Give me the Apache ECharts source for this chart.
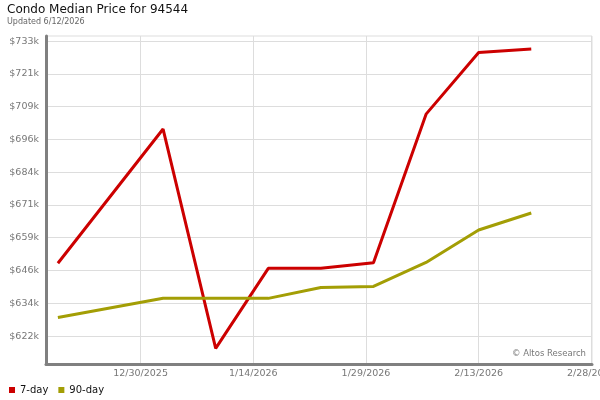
<!DOCTYPE html>
<html>
<head>
<meta charset="utf-8">
<script src="https://cdn.jsdelivr.net/npm/echarts@6/dist/echarts.min.js"></script>
<style>
  html, body { margin: 0; padding: 0; background: #fff; }
  #chart { width: 600px; height: 400px; }
</style>
</head>
<body>
<div id="chart"></div>
<script>
// weekly sample dates
const dates = ['2025-12-19', '2026-01-02', '2026-01-09', '2026-01-16', '2026-01-23',
               '2026-01-30', '2026-02-06', '2026-02-13', '2026-02-20'];
// median price, 7-day and 90-day rolling
const sevenDay = [649400, 699900, 617400, 647500, 647500, 649600, 705500, 728700, 730000];
const ninetyDay = [629000, 636200, 636200, 636200, 640300, 640700, 649700, 661900, 668300];

// tick labels
const xTickDates = ['2025-12-30', '2026-01-14', '2026-01-29', '2026-02-13', '2026-02-28'];
const yTickValues = [622000, 634333, 646667, 659000, 671333, 683667, 696000, 708333, 720667, 733000];
const yTickLabels = ['$622k', '$634k', '$646k', '$659k', '$671k', '$684k', '$696k', '$709k', '$721k', '$733k'];

const FONT = 'DejaVu Sans';

function ts(d) {
    return new Date(d + 'T00:00:00Z').getTime();
}

function fmtDate(v) {
    const d = new Date(v);
    return (d.getUTCMonth() + 1) + '/' + d.getUTCDate() + '/' + d.getUTCFullYear();
}

function fmtPrice(v) {
    let best = 0;
    for (let i = 1; i < yTickValues.length; i++) {
        if (Math.abs(yTickValues[i] - v) < Math.abs(yTickValues[best] - v)) best = i;
    }
    return yTickLabels[best];
}

const chart = echarts.init(document.getElementById('chart'), null, { renderer: 'canvas' });

const xTicks = xTickDates.map(ts);

chart.setOption({
    animation: false,
    textStyle: { fontFamily: FONT },
    title: {
        text: 'Condo Median Price for 94544',
        subtext: 'Updated 6/12/2026',
        left: 3,
        top: 2,
        padding: [2, 4],
        itemGap: 2,
        textStyle: { fontFamily: FONT, fontSize: 12, fontWeight: 'normal', color: '#111' },
        subtextStyle: { fontFamily: FONT, fontSize: 8, color: '#666' }
    },
    legend: {
        left: 4,
        top: 380,
        icon: 'rect',
        itemWidth: 6,
        itemHeight: 6,
        itemGap: 10,
        textStyle: { fontFamily: FONT, fontSize: 10, color: '#111' },
        data: ['7-day', '90-day']
    },
    grid: {
        left: 46,
        right: 8,
        top: 36,
        bottom: 36,
        outerBoundsMode: 'none',
        containLabel: false,
        show: true,
        borderColor: '#ddd',
        borderWidth: 1
    },
    xAxis: {
        type: 'value',
        min: Date.UTC(2025, 11, 17, 10),
        max: Date.UTC(2026, 1, 28, 2),
        axisLine: { show: true, lineStyle: { color: '#808080', width: 3 } },
        axisTick: { show: false, customValues: xTicks },
        axisLabel: {
            customValues: xTicks,
            formatter: fmtDate,
            fontFamily: FONT,
            fontSize: 9.5,
            color: '#777',
            margin: 5
        },
        splitLine: { show: true, lineStyle: { color: '#ddd', width: 1 } }
    },
    yAxis: {
        type: 'value',
        min: 611500,
        max: 734900,
        axisLine: { show: true, lineStyle: { color: '#808080', width: 3 } },
        axisTick: { show: false, customValues: yTickValues },
        axisLabel: {
            customValues: yTickValues,
            formatter: fmtPrice,
            fontFamily: FONT,
            fontSize: 9.5,
            color: '#777',
            margin: 7
        },
        splitLine: { show: true, lineStyle: { color: '#ddd', width: 1 } }
    },
    graphic: [{
        type: 'text',
        right: 14,
        top: 349,
        style: {
            text: '\u00a9 Altos Research',
            fontFamily: FONT,
            fontSize: 8.5,
            fill: '#777'
        }
    }],
    series: [{
        name: '7-day',
        type: 'line',
        data: dates.map((d, i) => [ts(d), sevenDay[i]]),
        showSymbol: false,
        color: '#cc0000',
        lineStyle: { width: 3, color: '#cc0000' }
    }, {
        name: '90-day',
        type: 'line',
        data: dates.map((d, i) => [ts(d), ninetyDay[i]]),
        showSymbol: false,
        color: '#a39e05',
        lineStyle: { width: 3, color: '#a39e05' }
    }]
});
</script>
</body>
</html>
